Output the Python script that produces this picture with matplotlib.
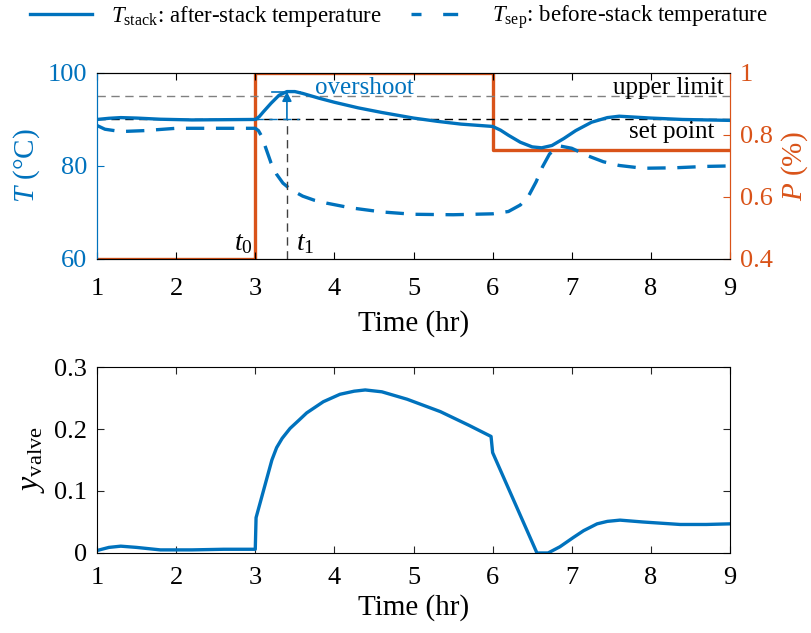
import numpy as np
import matplotlib
matplotlib.use("Agg")
import matplotlib.pyplot as plt
from matplotlib.lines import Line2D

plt.rcParams['font.family'] = ['Liberation Serif', 'DejaVu Serif']
plt.rcParams['mathtext.fontset'] = 'custom'
plt.rcParams['mathtext.rm'] = 'Liberation Serif'
plt.rcParams['mathtext.it'] = 'Liberation Serif:italic'
plt.rcParams['xtick.direction'] = 'in'
plt.rcParams['ytick.direction'] = 'in'

BLUE = '#0072BD'
ORANGE = '#D95319'

# after-stack temperature (degC)
t_stack = [1.0, 1.15, 1.3, 1.5, 1.8, 2.2, 2.6, 3.0, 3.05, 3.1, 3.2, 3.3, 3.4, 3.5, 3.6, 3.8,
           4.0, 4.3, 4.6, 5.0, 5.3, 5.6, 6.0, 6.1, 6.2, 6.35, 6.5, 6.62, 6.75, 6.9, 7.05, 7.25,
           7.45, 7.6, 7.8, 8.0, 8.4, 9.0]
T_stack = [90.0, 90.25, 90.4, 90.3, 90.05, 89.9, 89.95, 90.0, 90.6, 91.6, 93.5, 95.2, 96.0, 96.0,
           95.6, 94.6, 93.7, 92.5, 91.5, 90.3, 89.6, 89.0, 88.5, 87.7, 86.6, 85.1, 84.1, 83.9,
           84.4, 85.9, 87.6, 89.4, 90.4, 90.7, 90.5, 90.3, 90.0, 89.8]

# before-stack temperature (degC)
t_sep = [1.0, 1.1, 1.3, 1.6, 2.0, 2.5, 3.0, 3.04, 3.08, 3.13, 3.2, 3.27, 3.35, 3.45, 3.6, 3.75,
         3.9, 4.2, 4.6, 5.0, 5.5, 6.0, 6.2, 6.35, 6.45, 6.55, 6.63, 6.72, 6.85, 7.0, 7.2, 7.4,
         7.6, 7.9, 8.3, 8.7, 9.0]
T_sep = [88.7, 87.9, 87.4, 87.6, 88.1, 88.1, 88.1, 87.6, 86.4, 84.0, 80.6, 78.2, 76.3, 74.9,
         73.5, 72.6, 72.0, 71.0, 70.1, 69.6, 69.5, 69.7, 70.2, 71.6, 73.4, 76.6, 79.8, 82.6,
         84.3, 83.8, 82.2, 80.9, 80.1, 79.5, 79.6, 79.9, 80.0]

# power demand
t_P = [1.0, 3.0, 3.0, 6.0, 6.0, 9.0]
P = [0.4, 0.4, 1.0, 1.0, 0.75, 0.75]

# valve opening
t_valve = [1.0, 1.15, 1.3, 1.5, 1.8, 2.2, 2.6, 3.0, 3.01, 3.21, 3.27, 3.34, 3.44, 3.55, 3.65,
           3.86, 4.07, 4.25, 4.39, 4.6, 4.92, 5.34, 5.7, 5.98, 6.0, 6.56, 6.7, 6.85, 7.02, 7.15,
           7.32, 7.45, 7.61, 7.9, 8.37, 8.7, 9.0]
y_valve = [0.004, 0.009, 0.011, 0.009, 0.005, 0.005, 0.006, 0.006, 0.057, 0.150, 0.170, 0.185,
           0.201, 0.214, 0.226, 0.244, 0.256, 0.261, 0.263, 0.260, 0.248, 0.228, 0.206, 0.188,
           0.162, 0.0, 0.0, 0.010, 0.025, 0.036, 0.047, 0.051, 0.053, 0.050, 0.046, 0.046, 0.047]

set_point = 90
upper_limit = 95
t1 = 3.4
peak = 96

fig = plt.figure(figsize=(8.12, 6.33), dpi=100)
ax1 = fig.add_axes([0.1195, 0.591, 0.7795, 0.2937])
ax2 = ax1.twinx()
ax3 = fig.add_axes([0.1195, 0.1264, 0.7795, 0.2938])

fs = 19
lfs = 21

# top panel
ax1.axhline(upper_limit, color='#808080', ls=(0, (6, 4)), lw=1)
ax1.axhline(set_point, color='k', ls=(0, (6, 4)), lw=1)
l1, = ax1.plot(t_stack, T_stack, color=BLUE, lw=2.4)
ax1.plot(t_sep, T_sep, color=BLUE, lw=2.4, ls=(0, (5.5, 3.5)))
ax2.plot(t_P, P, color=ORANGE, lw=2.4, zorder=1)

ax1.plot([t1, t1], [60, set_point], color='#404040', ls=(0, (6, 4)), lw=1)
ax1.plot([3.0, 3.55], [set_point, set_point], color=BLUE, ls=(0, (6, 4)), lw=1)
ax1.plot([3.21, 3.57], [peak, peak], color=BLUE, lw=1.2)
ax1.annotate('', xy=(t1, peak), xytext=(t1, set_point),
             arrowprops=dict(arrowstyle='-|>', color=BLUE, lw=1.2, mutation_scale=14,
                             shrinkA=0, shrinkB=0))
ax1.text(3.76, 96.8, 'overshoot', color=BLUE, fontsize=18, va='center')
ax1.text(8.92, 96.8, 'upper limit', color='k', fontsize=18, va='center', ha='right')
ax1.text(8.8, 87.4, 'set point', color='k', fontsize=18, va='center', ha='right')
ax1.text(2.97, 63.2, '$t_0$', fontsize=20, ha='right', va='center')
ax1.text(3.52, 63.2, '$t_1$', fontsize=20, ha='left', va='center')

ax1.set_xlim(1, 9)
ax1.set_ylim(60, 100)
ax1.set_yticks([60, 80, 100])
ax2.set_ylim(0.4, 1.0)
ax2.set_yticks([0.4, 0.6, 0.8, 1.0])
ax2.set_yticklabels(['0.4', '0.6', '0.8', '1'])
ax1.set_xticks(range(1, 10))
ax1.tick_params(axis='x', top=True, labelsize=fs, length=5, pad=13.5)
ax1.tick_params(axis='y', colors=BLUE, labelsize=fs, length=5, pad=7)
ax2.tick_params(axis='y', colors=ORANGE, labelsize=fs, length=5, pad=7)
ax1.set_xlabel('Time (hr)', fontsize=lfs, labelpad=7.5)
ax1.set_ylabel('$T$ (°C)', fontsize=lfs, color=BLUE, labelpad=4)
ax2.set_ylabel('$P$ (%)', fontsize=lfs, color=ORANGE, labelpad=5)
for a in (ax1, ax2):
    a.spines['left'].set_color(BLUE)
    a.spines['right'].set_color(ORANGE)
ax1.set_zorder(ax2.get_zorder() + 1)
ax1.patch.set_visible(False)

# legend handle for the dashed series, two equal dashes like the original
l2 = Line2D([], [], color=BLUE, lw=2.4, ls=(1.5, (4.5, 6.5)))
fig.legend([l1, l2], ['$T_{\\mathrm{stack}}$: after-stack temperature',
                      '$T_{\\mathrm{sep}}$: before-stack temperature'],
           loc='upper left', bbox_to_anchor=(0.012, 1.027), ncol=2, frameon=False,
           fontsize=16.5, handlelength=2.7, columnspacing=1.3, handletextpad=0.8)

# bottom panel
ax3.plot(t_valve, y_valve, color=BLUE, lw=2.4)
ax3.set_xlim(1, 9)
ax3.set_ylim(0, 0.3)
ax3.set_xticks(range(1, 10))
ax3.set_yticks([0, 0.1, 0.2, 0.3])
ax3.set_yticklabels(['0', '0.1', '0.2', '0.3'])
ax3.tick_params(top=True, right=True, labelsize=fs, length=5, color='#262626')
ax3.tick_params(axis='x', pad=10)
ax3.tick_params(axis='y', pad=7)
ax3.set_xlabel('Time (hr)', fontsize=lfs, labelpad=4)
ax3.set_ylabel('$y_{\\mathrm{valve}}$', fontsize=lfs + 2, labelpad=5)

fig.savefig('out.png', dpi=100)
